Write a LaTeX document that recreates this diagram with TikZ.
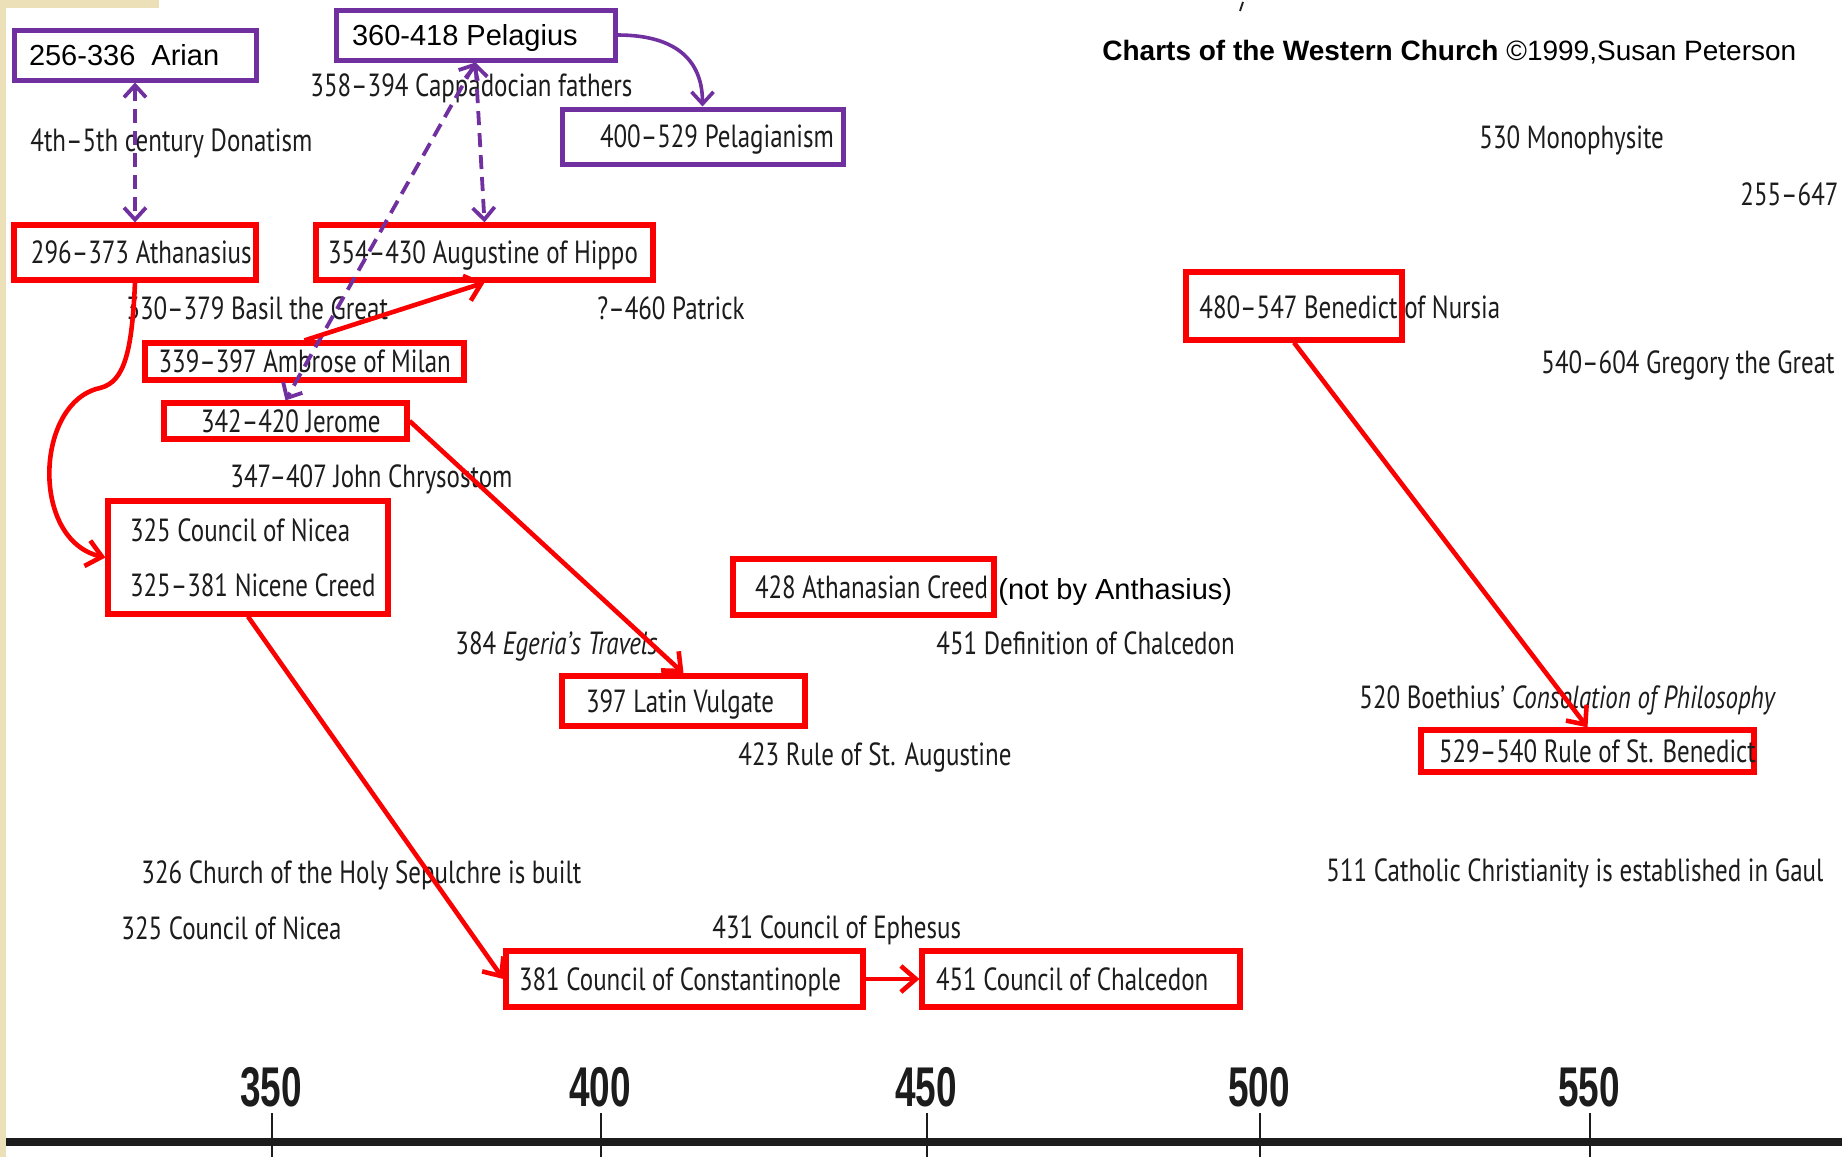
\documentclass[tikz,border=0pt]{standalone}
\usepackage{fontspec}
\setmainfont{Liberation Sans}
\newfontfamily\scanfont[FakeStretch=0.78]{PT Sans}
\newfontfamily\axisfont[FakeStretch=0.66]{Liberation Sans}
\usetikzlibrary{arrows.meta}
\definecolor{purp}{RGB}{112,48,160}
\definecolor{redc}{RGB}{250,0,0}
\definecolor{beige}{RGB}{236,224,184}
\definecolor{ink}{RGB}{28,28,28}
\newcommand\boxtxt[2]{\makebox[#1][l]{#2}}
\begin{document}
\begin{tikzpicture}[x=0.5pt,y=-0.5pt,
  scan/.style={font=\scanfont\fontsize{16}{19}\selectfont, text=ink, inner sep=0pt, anchor=west, text height=12pt, text depth=1pt},
  arialtxt/.style={font=\fontsize{14.5}{17}\selectfont, text=black, inner sep=0pt, anchor=west, text height=11.5pt, text depth=1pt},
  redbox/.style={draw=redc, line width=2.6pt, scan, anchor=center, align=left},
  purpbox/.style={draw=purp, line width=2.5pt, inner sep=0pt, anchor=center, align=left, text height=11.5pt, text depth=1pt},
  redarrow/.style={draw=redc, line width=2.3pt, -{Straight Barb[length=7.5pt,width=13pt,line width=2.3pt]}},
  purparrow/.style={draw=purp, line width=1.8pt, -{Straight Barb[length=6pt,width=11pt,line width=1.8pt]}},
  purpdash/.style={draw=purp, line width=1.9pt, dash pattern=on 7pt off 4pt,
     {Straight Barb[length=6pt,width=11pt,line width=1.9pt]}-{Straight Barb[length=6pt,width=11pt,line width=1.9pt]}},
  axislabel/.style={font=\axisfont\bfseries\fontsize{28}{30}\selectfont, text=ink, inner sep=0pt, anchor=center},
  titletxt/.style={font=\fontsize{14}{17}\selectfont, text=black, inner sep=0pt, anchor=west}
]
\useasboundingbox (0,0) rectangle (1842,1157);
\clip (0,0) rectangle (1842,1157);
\fill[white] (0,0) rectangle (1842,1157);
\fill[beige] (0,0) rectangle (159,8);
\fill[beige] (0,0) rectangle (6,1157);
\draw[line width=0.9pt, ink] (1243,2) -- (1240,11);

% title
\node[titletxt] (title) at (1102,52) {\textbf{Charts of the Western Church} ©1999,Susan Peterson};

% purple boxes
\node[purpbox, font=\fontsize{14.5}{17}\selectfont, minimum width=121pt, minimum height=25pt, inner xsep=7.5pt] (arian) at (135,55) {\boxtxt{106pt}{256-336\ \ Arian}};
\node[purpbox, font=\fontsize{14.5}{17}\selectfont, minimum width=139.5pt, minimum height=25pt, inner xsep=8pt] (pelag) at (475.5,35) {\boxtxt{123.5pt}{360-418 Pelagius}};
\node[purpbox, font=\scanfont\fontsize{16}{19}\selectfont, text=ink, text height=12pt, minimum width=140.5pt, minimum height=27.5pt, inner xsep=19pt] (pgm) at (702.5,136.5) {\boxtxt{102.5pt}{400–529 Pelagianism}};

% red boxes
\node[redbox, minimum width=121pt, minimum height=27.5pt, inner xsep=8.5pt] (athan) at (135,252.5) {\boxtxt{104pt}{296–373 Athanasius}};
\node[redbox, minimum width=168.5pt, minimum height=27.5pt, inner xsep=6pt] (aug) at (484.5,252.5) {\boxtxt{156.5pt}{354–430 Augustine of Hippo}};
\node[redbox, minimum width=159.5pt, minimum height=18.5pt, inner xsep=6.8pt] (amb) at (304.5,361.5) {\boxtxt{145.9pt}{339–397 Ambrose of Milan}};
\node[redbox, minimum width=121.5pt, minimum height=18pt, inner xsep=18.5pt] (jer) at (285.5,421) {\boxtxt{84.5pt}{342–420 Jerome}};
\node[redbox, minimum width=140pt, minimum height=56.5pt, inner xsep=11pt, text height=, text depth=, font=\scanfont\fontsize{16}{27.5}\selectfont] (nic) at (248,557.5) {\boxtxt{118pt}{325 Council of Nicea}\\\boxtxt{118pt}{325–381 Nicene Creed}};
\node[redbox, minimum width=130.5pt, minimum height=28pt, inner xsep=11pt] (athcr) at (863.5,587) {\boxtxt{108.5pt}{428 Athanasian Creed}};
\node[redbox, minimum width=121.5pt, minimum height=25pt, inner xsep=12pt] (vul) at (683.5,701) {\boxtxt{97.5pt}{397 Latin Vulgate}};
\node[redbox, minimum width=178.5pt, minimum height=28pt, inner xsep=6.5pt] (con) at (684.5,979) {\boxtxt{165.5pt}{381 Council of Constantinople}};
\node[redbox, minimum width=159pt, minimum height=28pt, inner xsep=7pt] (chal) at (1081,979) {\boxtxt{145pt}{451 Council of Chalcedon}};
\node[redbox, minimum width=108pt, minimum height=34pt] (ben) at (1294,306) {};
\node[redbox, minimum width=166.5pt, minimum height=21pt, inner xsep=9pt] (rule) at (1587.5,751) {\boxtxt{148.5pt}{529–540 Rule of St. Benedict}};

% free texts
\node[arialtxt] (notby) at (998,589) {(not by Anthasius)};
\node[scan] (cap) at (310,85) {358–394 Cappadocian fathers};
\node[scan] (don) at (30,140) {4th–5th century Donatism};
\node[scan] (basil) at (126,308) {330–379 Basil the Great};
\node[scan] (pat) at (597,308) {?–460 Patrick};
\node[scan] (chry) at (230,476) {347–407 John Chrysostom};
\node[scan] (ege) at (455,643) {384 \textit{Egeria’s Travels}};
\node[scan] (defch) at (936,643) {451 Definition of Chalcedon};
\node[scan] (ruleaug) at (738,754) {423 Rule of St. Augustine};
\node[scan] (sep) at (141,872) {326 Church of the Holy Sepulchre is built};
\node[scan] (nic2) at (121,928) {325 Council of Nicea};
\node[scan] (eph) at (712,927) {431 Council of Ephesus};
\node[scan] (mono) at (1479,137) {530 Monophysite};
\node[scan] (cut) at (1740,194) {255–647};
\node[scan] (bentxt) at (1199,307) {480–547 Benedict of Nursia};
\node[scan] (greg) at (1541,362) {540–604 Gregory the Great};
\node[scan] (boe) at (1359,697) {520 Boethius’ \textit{Consolation of Philosophy}};
\node[scan] (cath) at (1326,870) {511 Catholic Christianity is established in Gaul};

% connectors
\draw[purpdash] (arian.south) -- (athan.north);
\draw[purpdash] (pelag.south) -- (aug.north);
\draw[purpdash] (pelag.south) -- (jer.north);
\draw[purparrow] (pelag.east) .. controls +(60,0) and +(0,-45) .. (pgm.north);
\draw[redarrow] (athan.south) .. controls (132,350) and (125,382) .. (100,388) .. controls (35,402) and (30,540) .. (nic.west);
\draw[redarrow] (amb.north) -- (aug.south);
\draw[redarrow] (jer.east) -- (vul.north);
\draw[redarrow] (nic.south) -- (con.west);
\draw[redarrow] (con.east) -- (chal.west);
\draw[redarrow] (ben.south) -- (rule.north);

% axis
\draw[line width=4pt, ink] (6,1142) -- (1842,1142);
\foreach \xx/\lab in {272/350, 601/400, 927/450, 1260/500, 1590/550}{
  \draw[line width=1.1pt, ink] (\xx,1113) -- (\xx,1157);
  \node[axislabel] (ax\lab) at (\xx-1,1087) {\lab};
}
\end{tikzpicture}
\end{document}
